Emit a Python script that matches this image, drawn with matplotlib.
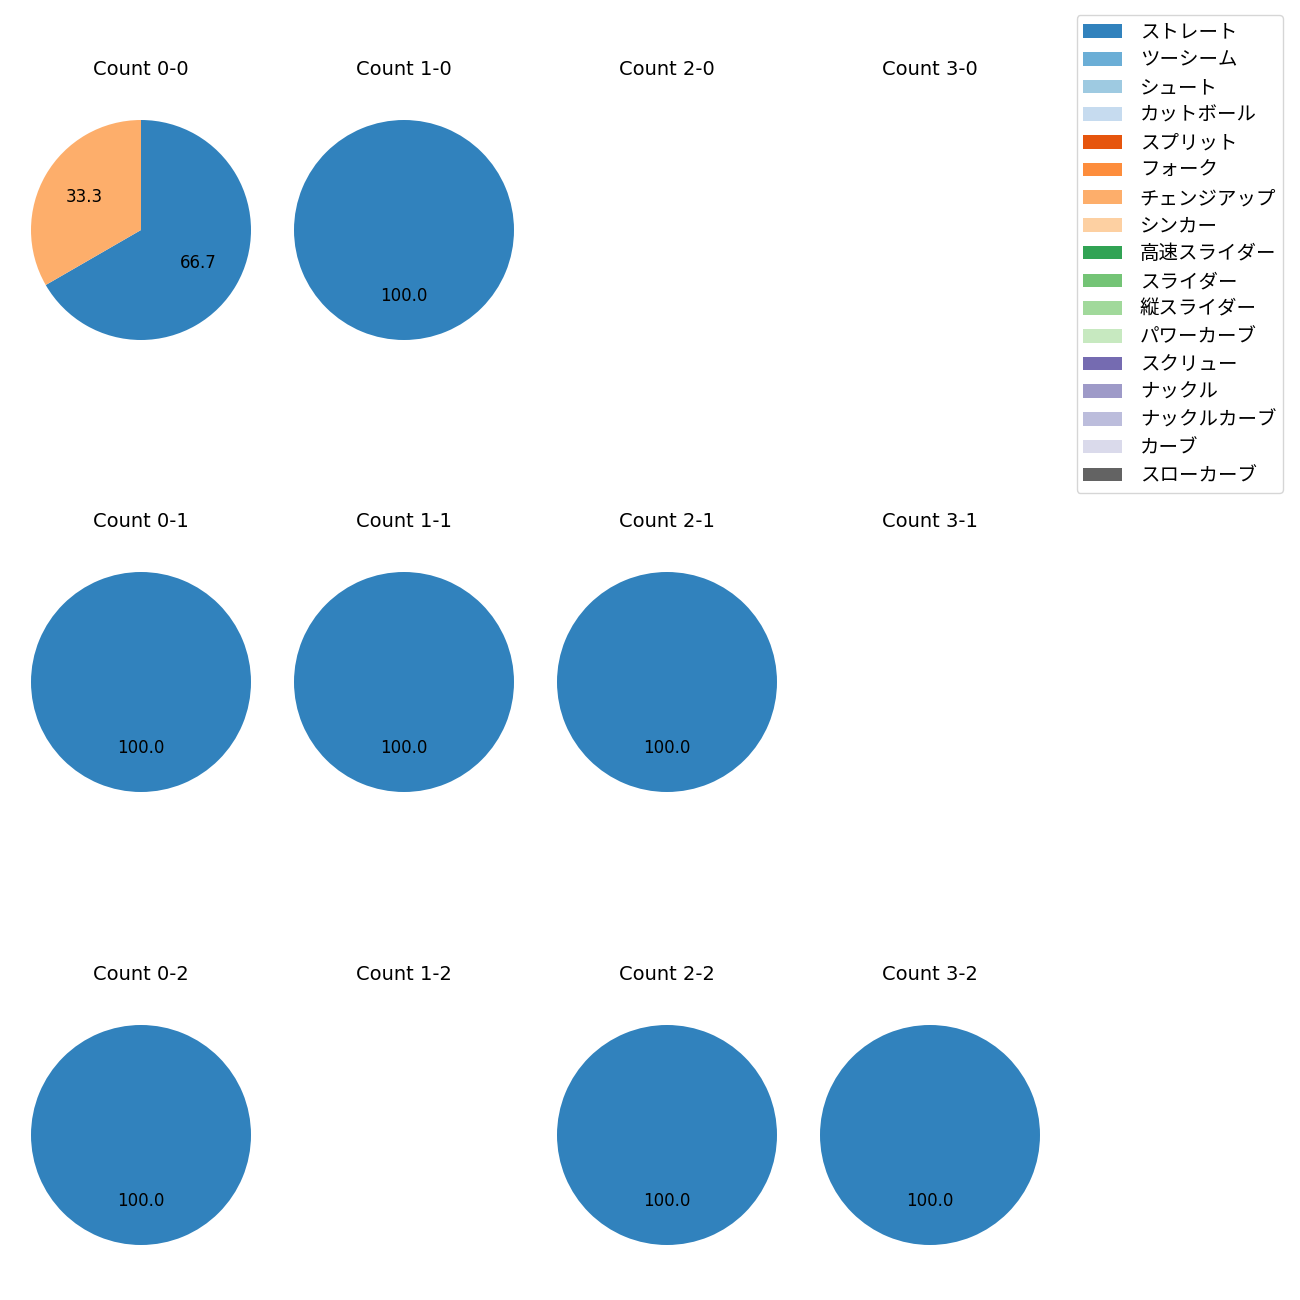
import matplotlib
matplotlib.use("Agg")
import matplotlib.pyplot as plt
from matplotlib.patches import Patch

plt.rcParams['font.family'] = ['DejaVu Sans', 'Noto Sans CJK JP']

pitch_types = ["ストレート", "ツーシーム", "シュート", "カットボール", "スプリット", "フォーク",
               "チェンジアップ", "シンカー", "高速スライダー", "スライダー", "縦スライダー",
               "パワーカーブ", "スクリュー", "ナックル", "ナックルカーブ", "カーブ", "スローカーブ"]
colors = ['#3182bd', '#6baed6', '#9ecae1', '#c6dbef', '#e6550d', '#fd8d3c', '#fdae6b',
          '#fdd0a2', '#31a354', '#74c476', '#a1d99b', '#c7e9c0', '#756bb1', '#9e9ac8',
          '#bcbddc', '#dadaeb', '#636363']

count_labels = ["0-0", "1-0", "2-0", "3-0",
                "0-1", "1-1", "2-1", "3-1",
                "0-2", "1-2", "2-2", "3-2"]
# pitches per count (only non-zero types listed)
straight = [2, 1, 0, 0, 1, 1, 1, 0, 1, 0, 1, 1]
changeup = [1, 0, 0, 0, 0, 0, 0, 0, 0, 0, 0, 0]

series = {"ストレート": straight, "チェンジアップ": changeup}

fig = plt.figure(figsize=(13, 13), dpi=100)
W = H = 1300.0
cxs = [141, 404, 667, 930]
cys = [230, 682, 1135]
R = 110.0
half = 1.25 * R

for i, cnt in enumerate(count_labels):
    r, c = divmod(i, 4)
    cx, cy = cxs[c], cys[r]
    ax = fig.add_axes([(cx - half) / W, (H - cy - half) / H, 2 * half / W, 2 * half / H])
    vals, cols = [], []
    for name, arr in series.items():
        if arr[i] > 0:
            vals.append(arr[i])
            cols.append(colors[pitch_types.index(name)])
    if vals:
        ax.pie(vals, colors=cols, startangle=90, counterclock=False,
               autopct='%.1f', textprops={'fontsize': 12})
    ax.set_xlim(-1.25, 1.25)
    ax.set_ylim(-1.25, 1.25)
    ax.set_aspect('equal')
    ax.axis('off')
    ax.set_title(f"Count {cnt}", fontsize=14, pad=12.3)

handles = [Patch(facecolor=col, label=lab) for lab, col in zip(pitch_types, colors)]
fig.legend(handles=handles, loc='upper right', bbox_to_anchor=(1283 / W, 1 - 15 / H),
           borderaxespad=0, labelspacing=0.345, borderpad=0.35, handletextpad=0.9,
           prop={'family': ['Noto Sans CJK JP', 'DejaVu Sans'], 'size': 14})

fig.savefig("out.png", dpi=100)
